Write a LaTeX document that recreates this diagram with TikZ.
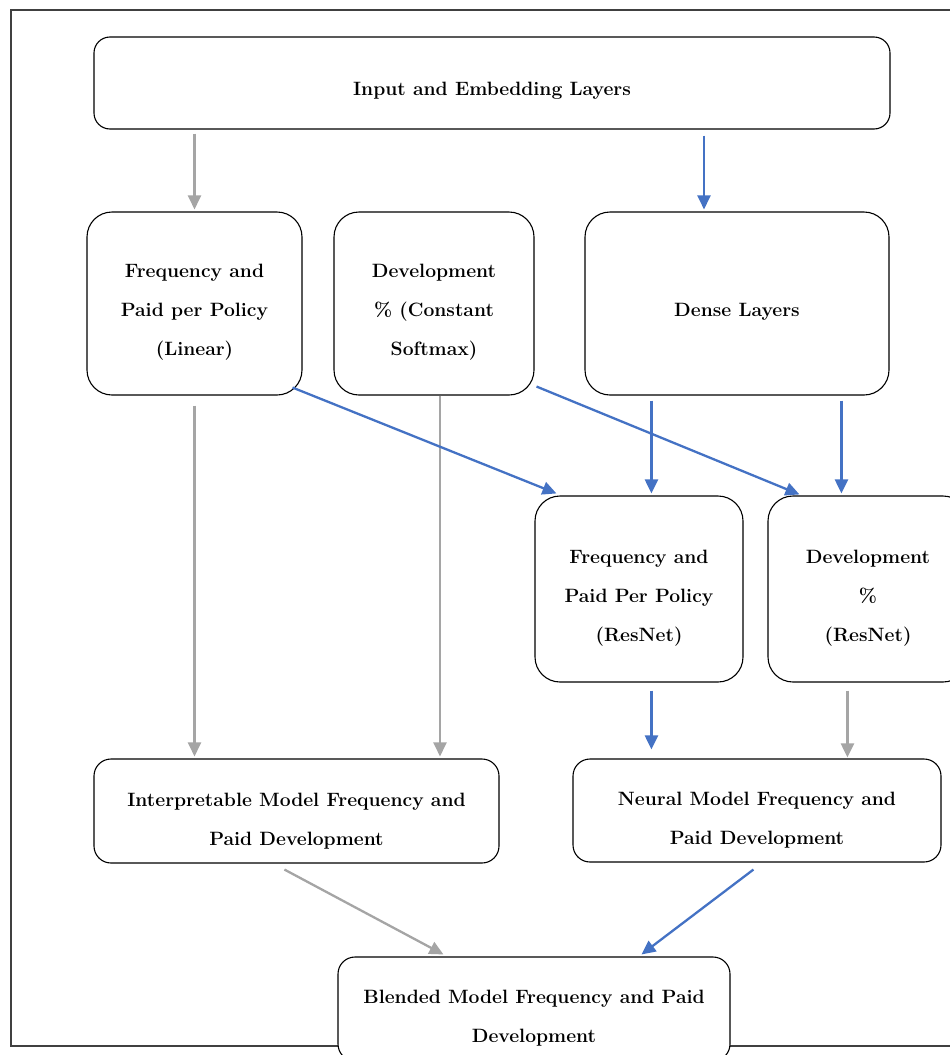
\documentclass[tikz,border=0pt]{standalone}
\usetikzlibrary{arrows.meta,calc}
\definecolor{ablue}{HTML}{4472C4}
\definecolor{agray}{HTML}{A5A5A5}
\begin{document}
\begin{tikzpicture}[x=1pt,y=-1pt,
  box/.style={draw=black,line width=1.1pt,fill=white,rounded corners=#1,inner sep=0pt},
  txt/.style={align=center,inner sep=0pt,font=\bfseries\fontsize{19.3}{39}\selectfont},
  barr/.style={draw=ablue,line width=2.3pt,-{Triangle[length=14pt,width=13pt]}},
  garr/.style={draw=agray,line width=2.3pt,-{Triangle[length=14pt,width=13pt]}}]
\clip (0,0) rectangle (950,1055);
\useasboundingbox (0,0) rectangle (950,1055);
\draw[black!75,line width=1.4pt] (11,10) rectangle (970,1046);

% boxes
\node[box=16pt,minimum width=796pt,minimum height=92pt] (in) at (492,83) {};
\node[box=25pt,minimum width=215pt,minimum height=183pt] (fl) at (194.5,303.5) {};
\node[box=25pt,minimum width=200pt,minimum height=183pt] (dc) at (434,303.5) {};
\node[box=25pt,minimum width=304pt,minimum height=183pt] (de) at (737,303.5) {};
\node[box=25pt,minimum width=208pt,minimum height=186pt] (fr) at (639,589) {};
\node[box=25pt,minimum width=200pt,minimum height=186pt] (dr) at (868,589) {};
\node[box=17pt,minimum width=405pt,minimum height=104pt] (ip) at (296.5,811) {};
\node[box=17pt,minimum width=368pt,minimum height=103pt] (ne) at (757,810.5) {};
\node[box=17pt,minimum width=392pt,minimum height=104pt] (bl) at (534,1009) {};

% texts
\node[txt] (inT) at ($(in.center)+(0,8)$) {Input and Embedding Layers};
\node[txt] (flT) at ($(fl.center)+(0,8.5)$) {Frequency and\\Paid per Policy\\(Linear)};
\node[txt] (dcT) at ($(dc.center)+(0,8.5)$) {Development\\\% (Constant\\Softmax)};
\node[txt] (deT) at ($(de.center)+(0,8.5)$) {Dense Layers};
\node[txt] (frT) at ($(fr.center)+(0,9)$) {Frequency and\\Paid Per Policy\\(ResNet)};
\node[txt] (drT) at ($(dr.center)+(0,9)$) {Development\\\%\\(ResNet)};
\node[txt] (ipT) at ($(ip.center)+(0,10)$) {Interpretable Model Frequency and\\Paid Development};
\node[txt] (neT) at ($(ne.center)+(0,9.5)$) {Neural Model Frequency and\\Paid Development};
\node[txt] (blT) at ($(bl.center)+(0,9.5)$) {Blended Model Frequency and Paid\\Development};

% connectors
\draw[garr] ($(fl.north |- in.south)+(0,4)$) -- ($(fl.north)+(0,-2)$);
\draw[barr] ($(de.north |- in.south)+(-33,6)$) -- ($(de.north)+(-33,-2)$);
\draw[garr] ($(fl.south)+(0,10)$) -- ($(fl.south |- ip.north)+(0,-2)$);
\draw[garr] ($(dc.south)+(6,0)$) -- ($(dc.south |- ip.north)+(6,-2)$);
\draw[barr] ($(fl.south east)+(-10,-8)$) -- ($(fr.north west)+(22,-2)$);
\draw[barr] ($(dc.south east)+(2,-9)$) -- ($(dr.north west)+(32,-1)$);
\draw[barr] ($(de.south west)+(67,5)$) -- ($(fr.north west)+(117,-2)$);
\draw[barr] ($(de.south west)+(257,5)$) -- ($(dr.north west)+(74,-2)$);
\draw[barr] ($(fr.south west)+(117,8)$) -- ($(ne.north west)+(79,-9)$);
\draw[garr] ($(dr.south west)+(80,8)$) -- ($(ne.north west)+(275,-1)$);
\draw[garr] ($(ip.south west)+(191,6)$) -- ($(bl.north west)+(106,-2)$);
\draw[barr] ($(ne.south west)+(181,7)$) -- ($(bl.north west)+(304,-2)$);
\end{tikzpicture}
\end{document}
